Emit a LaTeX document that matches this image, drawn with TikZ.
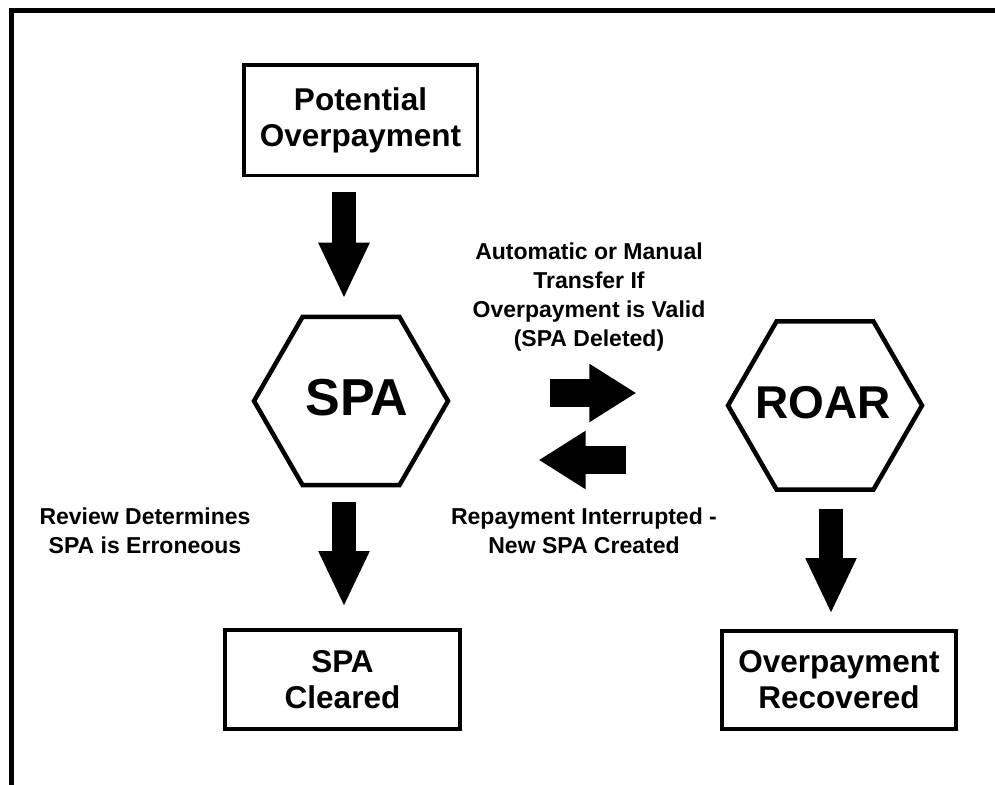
\documentclass[tikz,border=0pt]{standalone}
\usepackage{fontspec}
\setmainfont{Liberation Sans}
\usetikzlibrary{shapes.geometric,arrows.meta}

\begin{document}
\begin{tikzpicture}[x=1pt,y=-1pt,
  box/.style={draw,line width=4pt,align=center,inner sep=0pt,
    font=\fontsize{31.5}{36}\selectfont\bfseries},
  hexa/.style={draw,regular polygon,regular polygon sides=6,
    minimum size=194pt,inner sep=0pt,line width=4.5pt},
  hexatext/.style={inner sep=0pt,font=\fontsize{#1}{#1}\selectfont\bfseries},
  lbl/.style={align=center,font=\fontsize{23}{29}\selectfont\bfseries},
  downarrow/.style={line width=24pt,-{Triangle[length=56pt,width=47pt]}},
  sidearrow/.style={line width=28pt,-{Triangle[length=47pt,width=55pt]}}]
  \useasboundingbox (0,0) rectangle (995,784);
  \clip (0,0) rectangle (995,784);
  % outer frame
  \draw[line width=5pt] (11.5,800) |- (1010,10.5);

  % boxes and hexagons
  \node[box,line width=3.5pt,minimum width=233.5pt,minimum height=110.5pt] (pot) at (360.5,120) {Potential\\Overpayment};
  \node[hexa] (spa) at (351,401) {};
  \node[hexatext=52] (spatext) at ([xshift=6pt,yshift=3pt]spa.center) {SPA};
  \node[hexa] (roar) at (825,405.5) {};
  \node[hexatext=46] (roartext) at ([xshift=-2pt,yshift=3pt]roar.center) {ROAR};
  \node[box,minimum width=235pt,minimum height=99pt] (clr) at (342.5,679.5) {SPA\\Cleared};
  \node[box,minimum width=234pt,minimum height=98pt] (rec) at (839,680) {Overpayment\\Recovered};

  % labels
  \node[lbl] (valid) at (589,297) {Automatic or Manual\\Transfer If\\Overpayment is Valid\\(SPA Deleted)};
  \node[lbl] (review) at (145,531) {Review Determines\\SPA is Erroneous};
  \node[lbl] (repay) at (584,531) {Repayment Interrupted -\\New SPA Created};

  % arrows
  \draw[downarrow,shorten <=15pt,shorten >=16pt] ([xshift=-16.5pt]pot.south) -- ([xshift=-7pt]spa.north);
  \draw[downarrow,shorten <=15pt,shorten >=21pt] ([xshift=-7pt]spa.south) -- ([xshift=-7pt]spa.south |- clr.north);
  \draw[downarrow,shorten <=17.5pt,shorten >=15pt] ([xshift=6pt]roar.south) -- ([xshift=6pt]roar.south |- rec.north);
  \draw[sidearrow,shorten <=99pt,shorten >=89pt] ([yshift=8pt]spa.east) -- ([yshift=12.5pt]roar.west);
  \draw[sidearrow,shorten <=99pt,shorten >=88pt] ([yshift=-54.5pt]roar.west) -- ([yshift=-59pt]spa.east);
\end{tikzpicture}
\end{document}
